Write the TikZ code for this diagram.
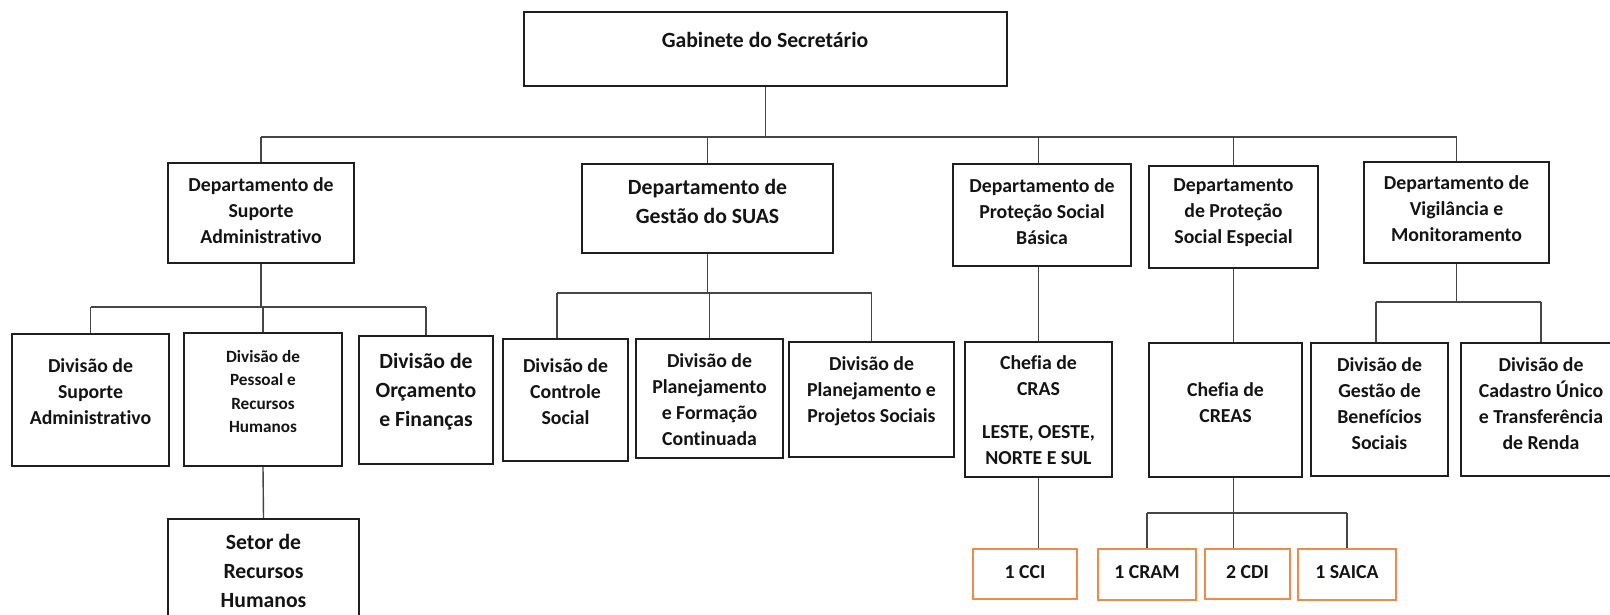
\documentclass[tikz,border=0pt]{standalone}
\usepackage{fontspec}
\setmainfont{Carlito}[Ligatures={NoCommon}]
\definecolor{orng}{RGB}{235,140,75}
\definecolor{lnc}{RGB}{70,70,70}
\newcommand\mkbox[6]{\node[#6, minimum width={(#4)-(#2)}, minimum height={(#5)-(#3)}] (#1) at ({((#2)+(#4))/2},{((#3)+(#5))/2}) {};}
\tikzset{
  box/.style={draw=black!88, line width=2.2pt, inner sep=0pt, fill=white},
  obox/.style={draw=orng, line width=2pt, inner sep=0pt, fill=white},
  conn/.style={draw=lnc, line width=1.4pt},
  tm/.style={font=\fontsize{19.8}{26}\selectfont\bfseries, align=center, inner sep=0pt, text=black!92},
  tb/.style={font=\fontsize{21.7}{29}\selectfont\bfseries, align=center, inner sep=0pt, text=black!92},
  ts/.style={font=\fontsize{17.2}{23.5}\selectfont\bfseries, align=center, inner sep=0pt, text=black!92},
}
\begin{document}
\begin{tikzpicture}[x=1pt,y=-1pt]
\useasboundingbox[fill=white] (0,0) rectangle (1610,614);
\clip (0,0) rectangle (1610,614);
% level 0
\mkbox{gab}{524}{12}{1007}{86}{box}
\node[tb] (gabt) at (765,40) {Gabinete do Secret\'ario};
% level 1
\mkbox{dsup}{168}{163}{354}{263}{box}
\node[tm] (dsupt) at (261,211) {Departamento de\\Suporte\\Administrativo};
\mkbox{suas}{582}{164}{833}{253}{box}
\node[tb] (suast) at (707.5,201.5) {Departamento de\\Gestão do SUAS};
\mkbox{psb}{953}{164}{1131}{266}{box}
\node[tm] (psbt) at (1042,212) {Departamento de\\Proteção Social\\Básica};
\mkbox{pse}{1149}{166}{1318}{268}{box}
\node[tm] (pset) at (1233.5,213) {Departamento\\de Proteção\\Social Especial};
\mkbox{vig}{1364}{162}{1549}{263}{box}
\node[tm] (vigt) at (1456.5,209) {Departamento de\\Vigilância e\\Monitoramento};
% level 2
\mkbox{divsa}{12}{334}{169}{466}{box}
\node[tm] (divsat) at (90.5,392) {Divisão de\\Suporte\\Administrativo};
\mkbox{pess}{184}{333}{342}{466}{box}
\node[ts] (pesst) at (263,391.5) {Divisão de\\Pessoal e\\Recursos\\Humanos};
\mkbox{orc}{359}{336}{493}{464}{box}
\node[tb] (orct) at (426,392) {Divisão de\\Orçamento\\e Finanças};
\mkbox{ctrl}{503}{339}{628}{461}{box}
\node[tm] (ctrlt) at (565.5,392) {Divisão de\\Controle\\Social};
\mkbox{planf}{636}{339}{783}{458}{box}
\node[tm] (planft) at (709.5,399.5) {Divisão de\\Planejamento\\e Formação\\Continuada};
\mkbox{planp}{789}{342}{954}{457}{box}
\node[tm] (planpt) at (871.5,391) {Divisão de\\Planejamento e\\Projetos Sociais};
\mkbox{cras}{965}{342}{1112}{477}{box}
\node[tm] (crast) at (1038.5,410.5) {Chefia de\\CRAS\\[17pt]LESTE, OESTE,\\NORTE E SUL};
\mkbox{creas}{1149}{343}{1302}{477}{box}
\node[tm] (creast) at (1225.5,402.5) {Chefia de\\CREAS};
\mkbox{benef}{1311}{343}{1448}{476}{box}
\node[tm] (beneft) at (1379.5,404) {Divisão de\\Gestão de\\Benefícios\\Sociais};
\mkbox{cad}{1461}{343}{1621}{476}{box}
\node[tm] (cadt) at (1541,404) {Divisão de\\Cadastro Único\\e Transferência\\de Renda};
% level 3
\mkbox{setor}{168}{519}{359}{640}{box}
\node[tb] (setort) at (263.5,571) {Setor de\\Recursos\\Humanos};
\mkbox{cci}{973}{549}{1077}{599}{obox}
\node[tm] (ccit) at (1025,572) {1 CCI};
\mkbox{cram}{1098}{549}{1196}{600}{obox}
\node[tm] (cramt) at (1147,572) {1 CRAM};
\mkbox{cdi}{1205}{549}{1290}{599}{obox}
\node[tm] (cdit) at (1247.5,572) {2 CDI};
\mkbox{saica}{1298}{549}{1396}{600}{obox}
\node[tm] (saicat) at (1347,572) {1 SAICA};
% bus coordinates
\coordinate (B0) at (0,137);
\coordinate (B1) at (0,307);
\coordinate (B2) at (0,293);
\coordinate (B3) at (0,513);
\coordinate (B4) at (0,302);
% connectors level 0-1
\draw[conn] (gab.south) -- (gab.south |- B0);
\draw[conn] (dsup.north |- B0) -- (vig.north |- B0);
\draw[conn] (dsup.north) -- (dsup.north |- B0);
\draw[conn] (suas.north) -- (suas.north |- B0);
\draw[conn] (cras.north |- psb.north) -- (cras.north |- B0);
\draw[conn] (pse.north) -- (pse.north |- B0);
\draw[conn] (vig.north) -- (vig.north |- B0);
% Suporte
\draw[conn] (dsup.south) -- (dsup.south |- B1);
\draw[conn] (divsa.north |- B1) -- (orc.north |- B1);
\draw[conn] (divsa.north) -- (divsa.north |- B1);
\draw[conn] (pess.north) -- (pess.north |- B1);
\draw[conn] (orc.north) -- (orc.north |- B1);
\draw[conn] (pess.south) -- (setor.north);
% SUAS
\draw[conn] (suas.south) -- (suas.south |- B2);
\draw[conn] ([xshift=-8.5pt]ctrl.north |- B2) -- (planp.north |- B2);
\draw[conn] ([xshift=-8.5pt]ctrl.north) -- ([xshift=-8.5pt]ctrl.north |- B2);
\draw[conn] (planf.north) -- (planf.north |- B2);
\draw[conn] (planp.north) -- (planp.north |- B2);
% PSB
\draw[conn] (psb.south -| cras.north) -- (cras.north);
\draw[conn] (cras.south) -- (cras.south |- cci.north);
% PSE
\draw[conn] (pse.south) -- (pse.south |- creas.north);
\draw[conn] (creas.south -| pse.south) -- (pse.south |- cdi.north);
\draw[conn] (cram.north |- B3) -- (saica.north |- B3);
\draw[conn] (cram.north) -- (cram.north |- B3);
\draw[conn] (saica.north) -- (saica.north |- B3);
% Vig
\draw[conn] (vig.south) -- (vig.south |- B4);
\draw[conn] ([xshift=-3.5pt]benef.north |- B4) -- (cad.north |- B4);
\draw[conn] ([xshift=-3.5pt]benef.north) -- ([xshift=-3.5pt]benef.north |- B4);
\draw[conn] (cad.north) -- (cad.north |- B4);
\end{tikzpicture}
\end{document}
